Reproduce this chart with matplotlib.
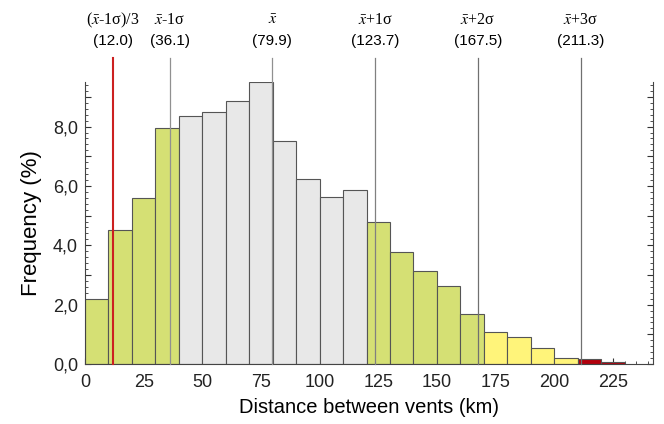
import matplotlib
matplotlib.use("Agg")
import matplotlib.pyplot as plt
import numpy as np
from matplotlib.ticker import MultipleLocator, FuncFormatter

plt.rcParams['font.family'] = ['Liberation Sans', 'DejaVu Sans']
plt.rcParams['mathtext.fontset'] = 'stix'

# histogram bins (10 km wide) and frequency (%)
bin_left = [0, 10, 20, 30, 40, 50, 60, 70, 80, 90, 100, 110,
            120, 130, 140, 150, 160, 170, 180, 190, 200, 210, 220]
freq = [2.2, 4.5, 5.6, 7.95, 8.35, 8.5, 8.85, 9.5, 7.53, 6.22, 5.61, 5.85,
        4.78, 3.78, 3.15, 2.62, 1.68, 1.07, 0.91, 0.55, 0.21, 0.16, 0.06]
bin_class = ['g', 'g', 'g', 'g', 'c', 'c', 'c', 'c', 'c', 'c', 'c', 'c',
             'g', 'g', 'g', 'g', 'g', 'y', 'y', 'y', 'y', 'r', 'r']
class_colors = {'g': '#d5e074', 'c': '#e8e8e8', 'y': '#fff47a', 'r': '#b3000c'}

# statistics lines
stat_values = [12.0, 36.1, 79.9, 123.7, 167.5, 211.3]
stat_names = [r'($\bar{x}$-1σ)/3', r'$\bar{x}$-1σ', r'$\bar{x}$',
              r'$\bar{x}$+1σ', r'$\bar{x}$+2σ', r'$\bar{x}$+3σ']
stat_colors = ['#cc2020', '#909090', '#909090', '#808080', '#707070', '#707070']

fig = plt.figure(figsize=(6.64, 4.24), dpi=100)
ax = fig.add_axes([0.128, 0.1415, 0.855, 0.665])

ax.bar(bin_left, freq, width=10, align='edge',
       color=[class_colors[c] for c in bin_class],
       edgecolor='#555555', linewidth=0.8, zorder=2)

ax.set_xlim(0, 242)
ax.set_ylim(0, 9.5)

for v, name, col in zip(stat_values, stat_names, stat_colors):
    lw = 1.5 if col == '#cc2020' else 0.9
    ax.plot([v, v], [0, 10.3], color=col, linewidth=lw, clip_on=False, zorder=3)
    ax.text(v, 11.58, name, ha='center', va='center', fontsize=11.5,
            family='Liberation Serif', clip_on=False)
    ax.text(v, 10.87, f'({v:.1f})', ha='center', va='center', fontsize=11,
            clip_on=False)

ax.xaxis.set_major_locator(MultipleLocator(25))
ax.xaxis.set_minor_locator(MultipleLocator(5))
ax.yaxis.set_major_locator(MultipleLocator(1))
ax.yaxis.set_minor_locator(MultipleLocator(0.2))
ax.yaxis.set_major_formatter(FuncFormatter(
    lambda y, p: (f'{y:.1f}'.replace('.', ',') if int(round(y)) % 2 == 0 else '')))

ax.tick_params(axis='both', which='both', direction='in', colors='#333333',
               labelcolor='#222222', labelsize=13)
ax.tick_params(axis='y', which='both', right=True)
ax.tick_params(axis='x', which='major', pad=7)
ax.tick_params(axis='y', which='major', pad=5)
ax.tick_params(which='major', length=4, width=0.8)
ax.tick_params(which='minor', length=2, width=0.6)

ax.spines['top'].set_visible(False)
for s in ['left', 'right', 'bottom']:
    ax.spines[s].set_color('#444444')
    ax.spines[s].set_linewidth(0.8)

ax.set_xlabel('Distance between vents (km)', fontsize=14.5, labelpad=5)
ax.set_ylabel('Frequency (%)', fontsize=16, labelpad=8)

fig.savefig('out.png', dpi=100)
